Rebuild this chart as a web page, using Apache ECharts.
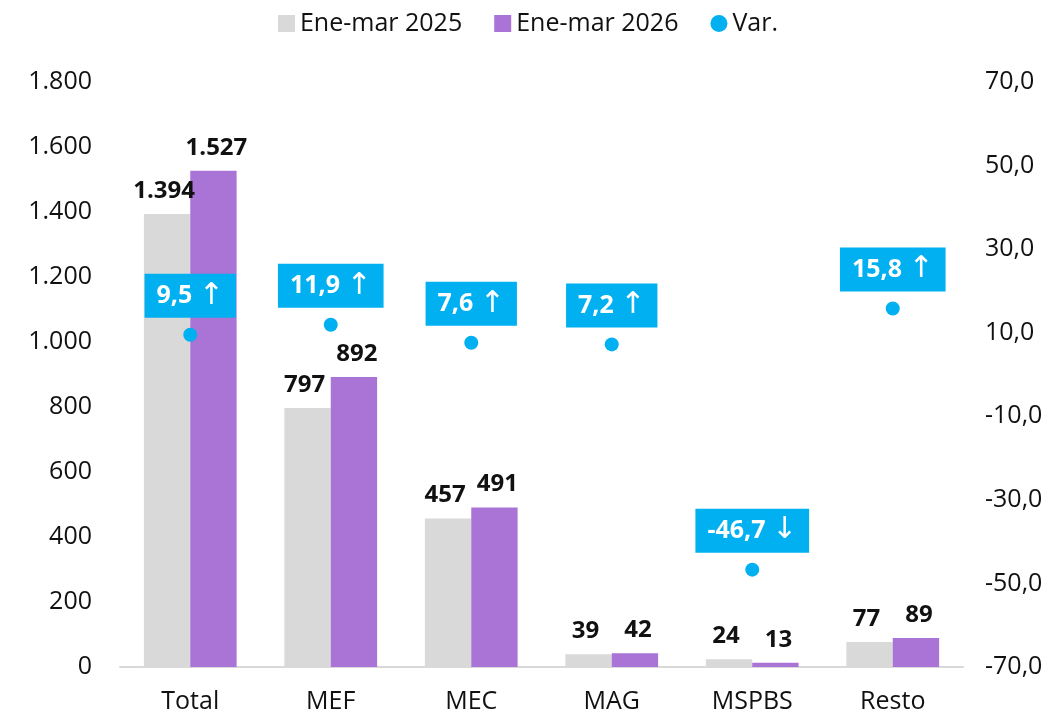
<!DOCTYPE html>
<html lang="es" style="height: 100%">
<head>
  <meta charset="utf-8">
  <title>ejecucion-ene-mar</title>
  <script src="https://cdn.jsdelivr.net/npm/echarts@6/dist/echarts.min.js"></script>
</head>
<body style="height: 100%; margin: 0; background: #fff">
<div id="main" style="width: 1056px; height: 716px"></div>

<script type="text/javascript">
  // datos
  var categorias = ['Total', 'MEF', 'MEC', 'MAG', 'MSPBS', 'Resto'];
  var ene2025 = [1394, 797, 457, 39, 24, 77];
  var ene2026 = [1527, 892, 491, 42, 13, 89];
  var variacion = [9.5, 11.9, 7.6, 7.2, -46.7, 15.8];

  var fuente = '"Open Sans", "Noto Sans", sans-serif';

  function miles(v) {
    return String(Math.round(v)).replace(/\B(?=(\d{3})+(?!\d))/g, '.');
  }
  function coma(v) {
    return v.toFixed(1).replace('.', ',');
  }

  var mychart = echarts.init(document.getElementById('main'));

  mychart.setOption({
    animation: false,
    textStyle: { fontFamily: fuente },
    legend: {
      top: 6,
      left: 'center',
      itemWidth: 17,
      itemHeight: 17,
      itemGap: 32,
      textStyle: { fontSize: 25, color: '#111', fontFamily: fuente },
      data: [
        { name: 'Ene-mar 2025', icon: 'rect' },
        { name: 'Ene-mar 2026', icon: 'rect' },
        { name: 'Var.', icon: 'circle', itemStyle: { opacity: 1 } }
      ]
    },
    grid: { left: 120, right: 93, top: 82, bottom: 49 },
    xAxis: {
      type: 'category',
      data: categorias,
      axisTick: { show: false },
      axisLine: { lineStyle: { color: '#d9d9d9', width: 2 } },
      axisLabel: { fontSize: 25, color: '#111', margin: 22, fontFamily: fuente }
    },
    yAxis: [
      {
        type: 'value',
        min: 0,
        max: 1800,
        interval: 200,
        splitLine: { show: false },
        axisLabel: {
          fontSize: 25, color: '#111', margin: 28, fontFamily: fuente,
          formatter: miles
        }
      },
      {
        type: 'value',
        min: -70,
        max: 70,
        interval: 20,
        position: 'right',
        splitLine: { show: false },
        axisLabel: {
          fontSize: 25, color: '#111', margin: 22, fontFamily: fuente,
          formatter: coma
        }
      }
    ],
    series: [
      {
        name: 'Ene-mar 2025',
        type: 'bar',
        data: ene2025,
        barGap: '0%',
        barCategoryGap: '34%',
        itemStyle: { color: '#d9d9d9' },
        label: {
          show: true, position: 'top', distance: 11, offset: [-3, 0],
          fontSize: 24, fontWeight: 'bold', color: '#111', fontFamily: fuente,
          formatter: function (p) { return miles(p.value); }
        }
      },
      {
        name: 'Ene-mar 2026',
        type: 'bar',
        data: ene2026,
        itemStyle: { color: '#aa74d6' },
        label: {
          show: true, position: 'top', distance: 11, offset: [3, 0],
          fontSize: 24, fontWeight: 'bold', color: '#111', fontFamily: fuente,
          formatter: function (p) { return miles(p.value); }
        }
      },
      {
        name: 'Var.',
        type: 'scatter',
        yAxisIndex: 1,
        data: variacion,
        symbolSize: 14,
        itemStyle: { color: '#00b0f0', opacity: 1 },
        label: {
          show: true,
          position: 'top',
          distance: 10,
          fontSize: 25,
          fontWeight: 'bold',
          color: '#fff',
          backgroundColor: '#00b0f0',
          padding: [6, 12, 6, 12],
          lineHeight: 32,
          fontFamily: fuente,
          formatter: function (p) {
            return coma(p.value) + ' {f|' + (p.value >= 0 ? '\u2191' : '\u2193') + '}';
          },
          rich: {
            f: { fontSize: 30, fontWeight: 'normal', color: '#fff', lineHeight: 32, fontFamily: 'DejaVu Sans' }
          }
        }
      }
    ]
  });

  window.addEventListener('resize', mychart.resize);
</script>
</body>
</html>
